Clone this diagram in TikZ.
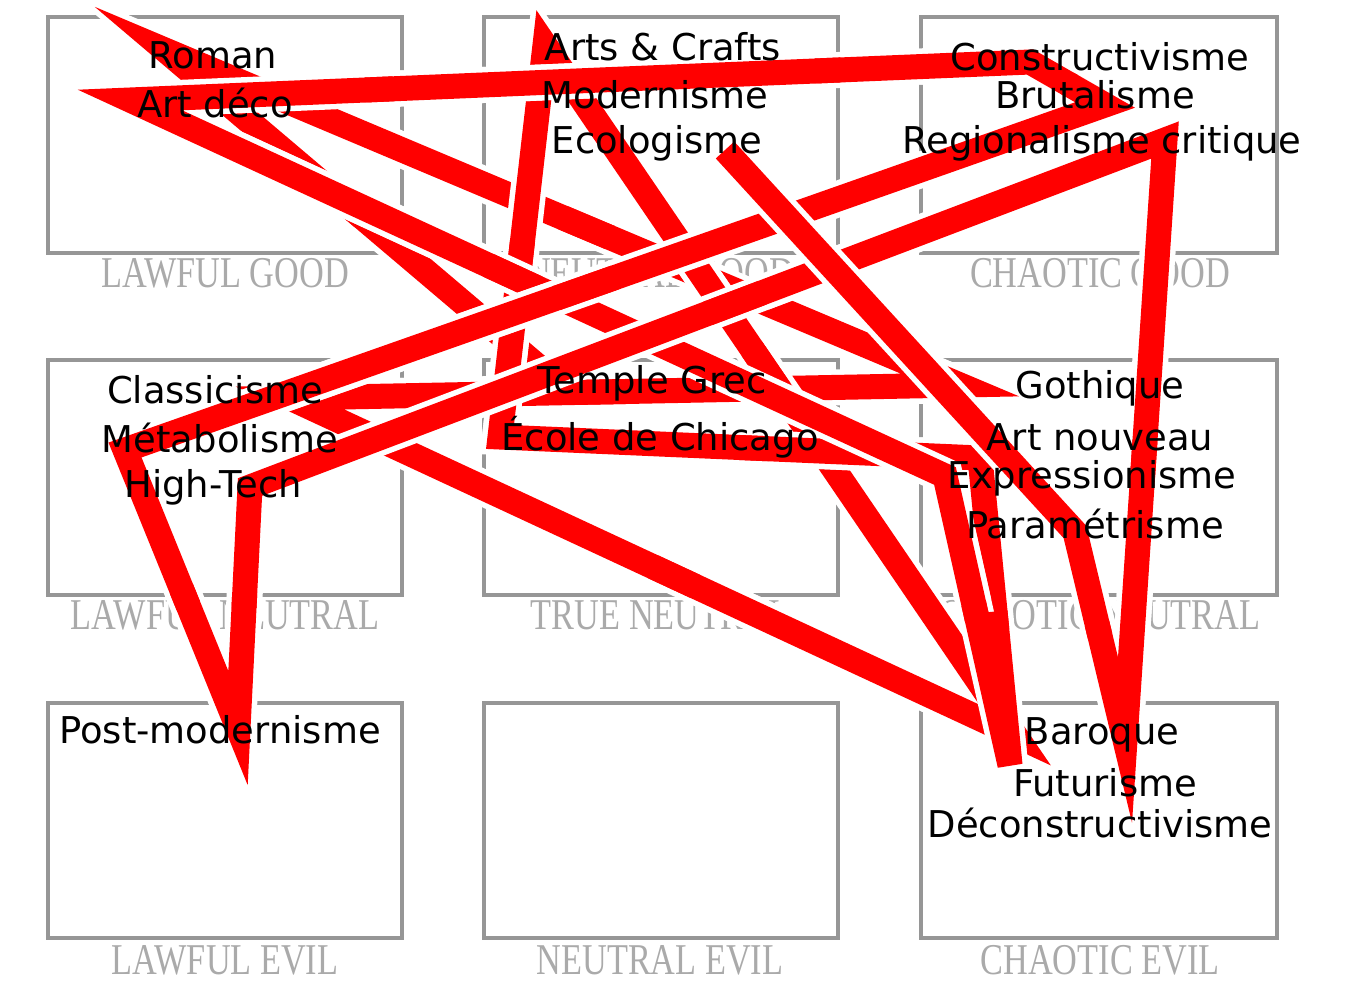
\documentclass[tikz,border=0pt]{standalone}
\usepackage{fontspec}
\setmainfont{DejaVu Sans}
\newfontfamily\alignfont{Liberation Serif}
\usepackage{graphicx}
\usetikzlibrary{calc}

\definecolor{cellgray}{RGB}{150,150,150}
\definecolor{aligngray}{RGB}{170,170,170}
\definecolor{pathred}{RGB}{255,0,0}

\tikzset{
  cell/.style={draw=cellgray, line width=1.2pt},
  alignname/.style={text=aligngray, font=\alignfont\fontsize{12.5}{13}\selectfont, inner sep=0pt},
  stylename/.style={text=black, font=\fontsize{10.5}{12}\selectfont, inner sep=0pt},
  halo/.style={white, line width=0.36cm, line join=miter},
  band/.style={pathred, line width=0.25cm, line join=miter}
}

% one leg of the red path: from half way to #2, round the corner at #2, on to #3
\newcommand{\redleg}[3]{%
  \draw[halo] ($(#1)!0.56!(#2)$) -- (#2) -- (#3);
  \draw[band] ($(#1)!0.5!(#2)$) -- (#2) -- (#3);
}

\begin{document}
\begin{tikzpicture}[x=0.01cm, y=-0.01cm]
    \useasboundingbox (0,0) rectangle (1358,981);

    % The nine cells
    \draw[cell] (48,17) rectangle (402,253);
    \draw[cell] (484,17) rectangle (838,253);
    \draw[cell] (921,17) rectangle (1277,253);
    \draw[cell] (48,360) rectangle (402,595);
    \draw[cell] (484,360) rectangle (838,595);
    \draw[cell] (921,360) rectangle (1277,595);
    \draw[cell] (48,703) rectangle (402,938);
    \draw[cell] (484,703) rectangle (838,938);
    \draw[cell] (921,703) rectangle (1277,938);

    % Alignment names under the cells
    \node[alignname] (lg) at (225,273) {\scalebox{0.78}[1]{LAWFUL GOOD}};
    \node[alignname] (ng) at (660,273) {\scalebox{0.78}[1]{NEUTRAL GOOD}};
    \node[alignname] (cg) at (1100,273) {\scalebox{0.78}[1]{CHAOTIC GOOD}};
    \node[alignname] (ln) at (225,615) {\scalebox{0.78}[1]{LAWFUL NEUTRAL}};
    \node[alignname] (tn) at (660,615) {\scalebox{0.78}[1]{TRUE NEUTRAL}};
    \node[alignname] (cn) at (1100,615) {\scalebox{0.78}[1]{CHAOTIC NEUTRAL}};
    \node[alignname] (le) at (225,960) {\scalebox{0.78}[1]{LAWFUL EVIL}};
    \node[alignname] (ne) at (660,960) {\scalebox{0.78}[1]{NEUTRAL EVIL}};
    \node[alignname] (ce) at (1100,960) {\scalebox{0.78}[1]{CHAOTIC EVIL}};

    % Corners of the red path
    \coordinate (tgrec) at (560,385);
    \coordinate (roman) at (165,50);
    \coordinate (gothique) at (960,385);
    \coordinate (classic) at (290,398);
    \coordinate (baroque) at (1015,735);
    \coordinate (arts) at (545,45);
    \coordinate (chicago) at (500,437);
    \coordinate (nouveau) at (980,458);
    \coordinate (futur) at (1010,765);
    \coordinate (express) at (945,476);
    \coordinate (artdeco) at (130,100);
    \coordinate (modern) at (600,80);
    \coordinate (constr) at (1030,62);
    \coordinate (brutal) at (1105,105);
    \coordinate (metab) at (125,450);
    \coordinate (postmod) at (238,728);
    \coordinate (hightech) at (250,487);
    \coordinate (region) at (1165,140);
    \coordinate (deconstr) at (1125,740);
    \coordinate (param) at (1075,532);
    \coordinate (ecolo) at (725,150);

    % The red path, leg by leg, each later leg on top
    \draw[halo] (tgrec) -- (roman);
    \draw[band] (tgrec) -- (roman);
    \redleg{tgrec}{roman}{gothique}
    \redleg{roman}{gothique}{classic}
    \redleg{gothique}{classic}{baroque}
    \redleg{classic}{baroque}{arts}
    \redleg{baroque}{arts}{chicago}
    \redleg{arts}{chicago}{nouveau}
    \redleg{chicago}{nouveau}{futur}
    \redleg{nouveau}{futur}{express}
    \redleg{futur}{express}{artdeco}
    \redleg{express}{artdeco}{modern}
    \redleg{artdeco}{modern}{constr}
    \redleg{modern}{constr}{brutal}
    \redleg{constr}{brutal}{metab}
    \redleg{brutal}{metab}{postmod}
    \redleg{metab}{postmod}{hightech}
    \redleg{postmod}{hightech}{region}
    \redleg{hightech}{region}{deconstr}
    \redleg{region}{deconstr}{param}
    \redleg{deconstr}{param}{ecolo}

    % Style names, on top of the path
    \node[stylename] (troman) at (213,55) {Roman};
    \node[stylename] (tartdeco) at (215,103) {Art déco};
    \node[stylename] (tarts) at (663,47) {Arts \& Crafts};
    \node[stylename] (tmodern) at (655,95) {Modernisme};
    \node[stylename] (tecolo) at (657,143) {Ecologisme};
    \node[stylename] (tconstr) at (1100,57) {Constructivisme};
    \node[stylename] (tbrutal) at (1095,95) {Brutalisme};
    \node[stylename] (tregion) at (1102,143) {Regionalisme critique};
    \node[stylename] (tclassic) at (215,390) {Classicisme};
    \node[stylename] (tmetab) at (220,438) {Métabolisme};
    \node[stylename] (thightech) at (213,487) {High-Tech};
    \node[stylename] (ttgrec) at (652,383) {Temple Grec};
    \node[stylename] (tchicago) at (660,437) {École de Chicago};
    \node[stylename] (tgothique) at (1100,388) {Gothique};
    \node[stylename] (tnouveau) at (1100,437) {Art nouveau};
    \node[stylename] (texpress) at (1092,478) {Expressionisme};
    \node[stylename] (tparam) at (1095,524) {Paramétrisme};
    \node[stylename] (tpostmod) at (220,730) {Post-modernisme};
    \node[stylename] (tbaroque) at (1102,735) {Baroque};
    \node[stylename] (tfutur) at (1105,783) {Futurisme};
    \node[stylename] (tdeconstr) at (1100,823) {Déconstructivisme};
\end{tikzpicture}
\end{document}
